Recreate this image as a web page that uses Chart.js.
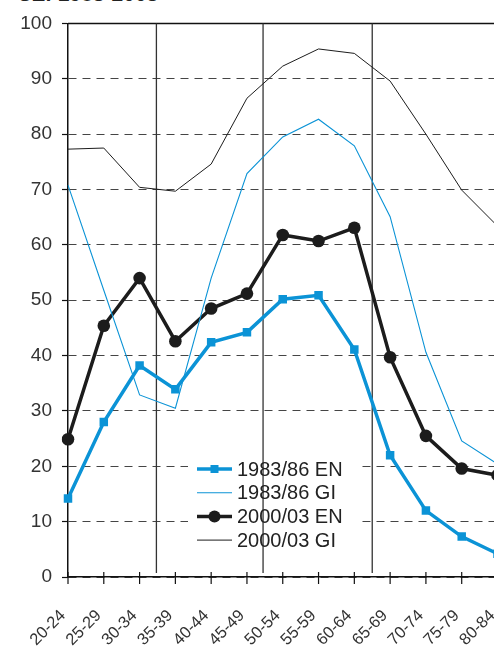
<!DOCTYPE html>
<html>
<head>
<meta charset="utf-8">
<script src="https://cdn.jsdelivr.net/npm/chart.js@4/dist/chart.umd.min.js"></script>
<style>
  html, body { margin: 0; padding: 0; background: #fff; overflow: hidden; }
  #wrap { position: relative; width: 494px; height: 648px; overflow: hidden; background: #fff; }
  #title {
    position: absolute; left: 17px; top: -17px;
    font: bold 21px "Liberation Sans", Arial, sans-serif; line-height: 21px;
    color: #222; white-space: nowrap;
  }
  #holder { position: absolute; left: 0; top: 0; width: 540px; height: 648px; }
</style>
</head>
<body>
<div id="wrap">
  <div id="title">CZ: 1983-2003</div>
  <div id="holder"><canvas id="chart" width="540" height="648"></canvas></div>
</div>
<script>
// Age groups on the horizontal axis
const ageGroups = ['20-24', '25-29', '30-34', '35-39', '40-44', '45-49', '50-54',
                   '55-59', '60-64', '65-69', '70-74', '75-79', '80-84'];

// Rates per age group (%)
const en1983 = [14.2, 28.0, 38.2, 33.9, 42.4, 44.2, 50.2, 50.9, 41.1, 22.0, 12.0, 7.3, 4.2];
const gi1983 = [70.8, 51.8, 32.9, 30.5, 54.0, 72.9, 79.5, 82.7, 77.9, 65.1, 40.6, 24.6, 20.4];
const en2000 = [24.9, 45.4, 54.0, 42.6, 48.5, 51.2, 61.8, 60.7, 63.1, 39.7, 25.5, 19.6, 18.4];
const gi2000 = [77.3, 77.5, 70.4, 69.7, 74.6, 86.5, 92.3, 95.4, 94.6, 89.6, 80.0, 69.9, 63.4];

// Value axis ticks
const yTicks = [0, 10, 20, 30, 40, 50, 60, 70, 80, 90, 100];

// Period separators, in category units
const periodBreaks = [2.47, 5.45, 8.5];

const BLUE = '#0b93d6';
const BLACK = '#1c1c1c';
const FONT = '"Liberation Sans", Arial, sans-serif';

const decor = {
  id: 'decor',
  beforeDatasetsDraw(chart) {
    const { ctx, chartArea: ca, scales: { x, y } } = chart;
    const yTop = y.getPixelForValue(100);
    ctx.save();

    // solid top frame line at 100
    ctx.strokeStyle = '#111';
    ctx.lineWidth = 1.4;
    ctx.setLineDash([]);
    ctx.beginPath();
    ctx.moveTo(ca.left, yTop);
    ctx.lineTo(ca.right + 10, yTop);
    ctx.stroke();

    // tick marks crossing the category axis
    ctx.lineWidth = 1.2;
    x.ticks.forEach((t, i) => {
      const px = x.getPixelForTick(i);
      ctx.beginPath();
      ctx.moveTo(px, ca.bottom - 5);
      ctx.lineTo(px, ca.bottom + 7);
      ctx.stroke();
    });

    // legend panel (white, hides the grid behind it)
    const lx = ca.left + 120, ly = ca.bottom - 122;
    ctx.fillStyle = '#fff';
    ctx.fillRect(lx, ly, 170, 97);

    // period separators
    ctx.strokeStyle = '#333';
    ctx.lineWidth = 1.3;
    periodBreaks.forEach(v => {
      const px = x.getPixelForValue(v);
      ctx.beginPath();
      ctx.moveTo(px, yTop);
      ctx.lineTo(px, ca.bottom - 4);
      ctx.stroke();
    });

    // legend entries
    const rowY0 = ca.bottom - 108, rowStep = 23.7;
    const sx0 = ca.left + 129, sx1 = ca.left + 164, tx = ca.left + 169;
    ctx.font = '20px ' + FONT;
    ctx.textBaseline = 'middle';
    ctx.textAlign = 'left';
    chart.data.datasets.forEach((ds, i) => {
      const ry = rowY0 + i * rowStep;
      ctx.strokeStyle = ds.borderColor;
      ctx.lineWidth = ds.borderWidth;
      ctx.beginPath();
      ctx.moveTo(sx0, ry);
      ctx.lineTo(sx1, ry);
      ctx.stroke();
      const mx = (sx0 + sx1) / 2;
      ctx.fillStyle = ds.borderColor;
      if (ds.pointStyle === 'rect') {
        ctx.fillRect(mx - 4, ry - 4, 8, 8);
      } else if (ds.pointRadius > 0) {
        ctx.beginPath();
        ctx.arc(mx, ry, 6, 0, Math.PI * 2);
        ctx.fill();
      }
      ctx.fillStyle = '#222';
      ctx.fillText(ds.label, tx, ry + 1);
    });
    ctx.restore();
  }
};

new Chart(document.getElementById('chart'), {
  type: 'line',
  data: {
    labels: ageGroups,
    datasets: [
      { label: '1983/86 EN', data: en1983, borderColor: BLUE, backgroundColor: BLUE,
        borderWidth: 3.5, pointStyle: 'rect', pointRadius: 6, pointBorderWidth: 0 },
      { label: '1983/86 GI', data: gi1983, borderColor: BLUE, backgroundColor: BLUE,
        borderWidth: 1.1, pointRadius: 0 },
      { label: '2000/03 EN', data: en2000, borderColor: BLACK, backgroundColor: BLACK,
        borderWidth: 3.5, pointStyle: 'circle', pointRadius: 6.3, pointBorderWidth: 0 },
      { label: '2000/03 GI', data: gi2000, borderColor: BLACK, backgroundColor: BLACK,
        borderWidth: 1.0, pointRadius: 0 }
    ]
  },
  options: {
    responsive: false,
    animation: false,
    devicePixelRatio: 1,
    layout: { padding: { left: 0, right: 42.5, top: 23.5, bottom: 0 } },
    elements: { line: { tension: 0 } },
    plugins: { legend: { display: false }, tooltip: { enabled: false }, title: { display: false } },
    scales: {
      x: {
        offset: false,
        grid: { display: false, drawTicks: false },
        border: { display: true, color: '#111', width: 1.5 },
        ticks: {
          autoSkip: false, maxRotation: 45, minRotation: 45, padding: 29, labelOffset: -5,
          color: '#333', font: { family: FONT, size: 16.5 }
        },
        afterFit(s) { s.height = 71; s.paddingLeft = 0; s.paddingRight = 0; }
      },
      y: {
        min: 0, max: 100,
        afterBuildTicks(s) { s.ticks = yTicks.map(v => ({ value: v })); },
        grid: { color: '#454545', lineWidth: 1, tickLength: 6, tickColor: '#111',
                tickWidth: 1.2, tickBorderDash: [] },
        border: { display: true, color: '#111', width: 1.5, dash: [8, 6] },
        ticks: { padding: 10, color: '#333', font: { family: FONT, size: 19 } },
        afterFit(s) { s.width = 68; }
      }
    }
  },
  plugins: [decor]
});
</script>
</body>
</html>
